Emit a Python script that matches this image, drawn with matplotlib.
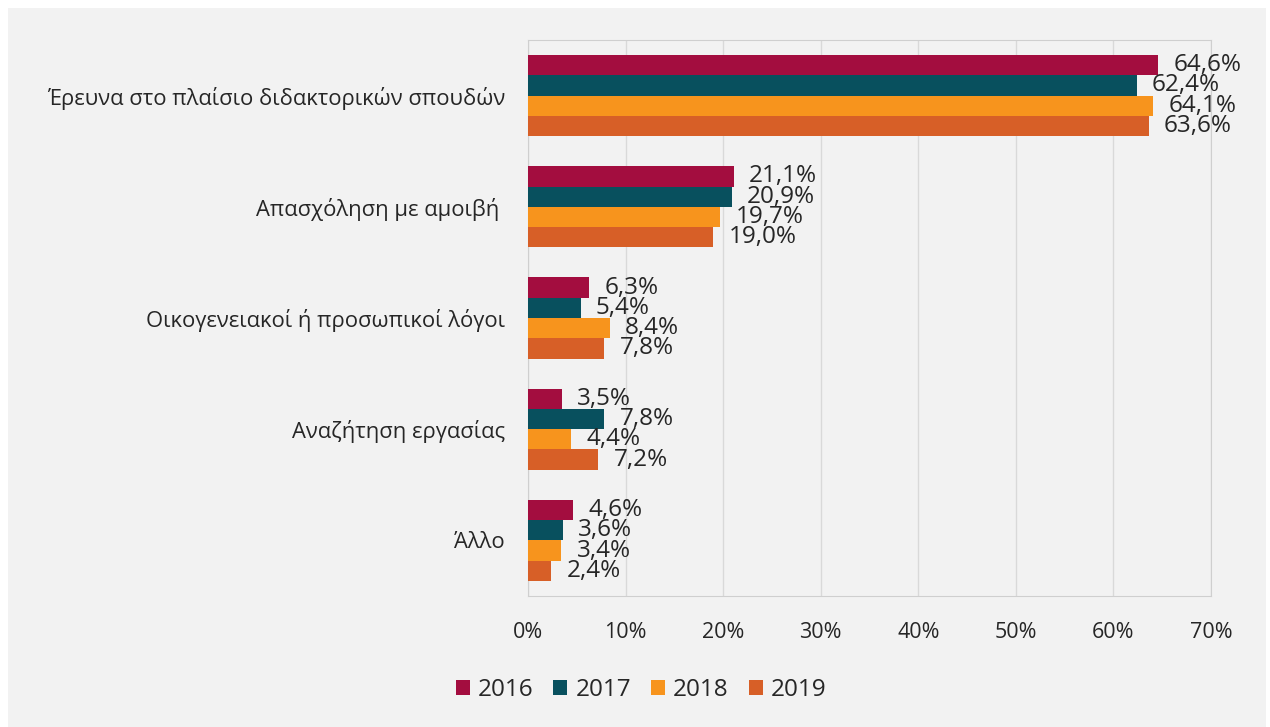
import numpy as np
import matplotlib.pyplot as plt
from matplotlib.patches import Patch, Rectangle
from matplotlib.ticker import FuncFormatter

plt.rcParams['font.family'] = ['Open Sans', 'DejaVu Sans']

categories = [
    'Έρευνα στο πλαίσιο διδακτορικών σπουδών',
    'Απασχόληση με αμοιβή ',
    'Οικογενειακοί ή προσωπικοί λόγοι',
    'Αναζήτηση εργασίας',
    'Άλλο',
]
years = ['2016', '2017', '2018', '2019']
values = {
    '2016': [64.6, 21.1, 6.3, 3.5, 4.6],
    '2017': [62.4, 20.9, 5.4, 7.8, 3.6],
    '2018': [64.1, 19.7, 8.4, 4.4, 3.4],
    '2019': [63.6, 19.0, 7.8, 7.2, 2.4],
}
colors = ['#A30D3F', '#08505E', '#F7941D', '#D75F27']

bg = '#F2F2F2'
text_color = '#262626'

fig = plt.figure(figsize=(12.7, 7.27), dpi=100, facecolor='white')
# grey panel with a thin white margin on the top and left
fig.patches.append(Rectangle((8 / 1270, 0), 1258 / 1270, 1 - 8 / 727,
                             transform=fig.transFigure, facecolor=bg,
                             edgecolor='none', zorder=-10))

ax = fig.add_axes([528 / 1270, 1 - 596 / 727, 683 / 1270, 556 / 727])
ax.set_facecolor(bg)

y = np.arange(len(categories))
h = 0.1825
for i, (yr, c) in enumerate(zip(years, colors)):
    pos = y + (i - 1.5) * h
    vals = values[yr]
    ax.barh(pos, vals, height=h, color=c, zorder=3)
    for p, v in zip(pos, vals):
        ax.annotate(f'{v:.1f}%'.replace('.', ','), (v, p),
                    xytext=(11, 0), textcoords='offset points',
                    ha='left', va='center', fontsize=17.5, color=text_color,
                    zorder=4)

ax.set_xlim(0, 70)
ax.set_ylim(len(categories) - 0.5, -0.5)
ax.set_xticks(np.arange(0, 71, 10))
ax.xaxis.set_major_formatter(FuncFormatter(lambda v, _: f'{v:.0f}%'))
ax.set_yticks(y)
ax.set_yticklabels(categories)
ax.tick_params(axis='x', length=0, pad=19, labelsize=15.5, labelcolor=text_color)
ax.tick_params(axis='y', length=0, pad=16.5, labelsize=15.8, labelcolor=text_color)

ax.grid(axis='x', color='#D9D9D9', linewidth=1, zorder=0)
for s in ax.spines.values():
    s.set_color('#CFCFCF')
    s.set_linestyle((0, (1, 1)))
    s.set_linewidth(0.8)

handles = [Patch(facecolor=c, edgecolor='none', label=yr) for yr, c in zip(years, colors)]
fig.legend(handles=handles, loc='center', bbox_to_anchor=(641 / 1270, 1 - 690 / 727),
           ncol=4, frameon=False, fontsize=17.5, handlelength=0.58, handleheight=0.58,
           handletextpad=0.33, columnspacing=0.82, labelcolor=text_color)

fig.savefig('out.png', dpi=100, facecolor=fig.get_facecolor())
